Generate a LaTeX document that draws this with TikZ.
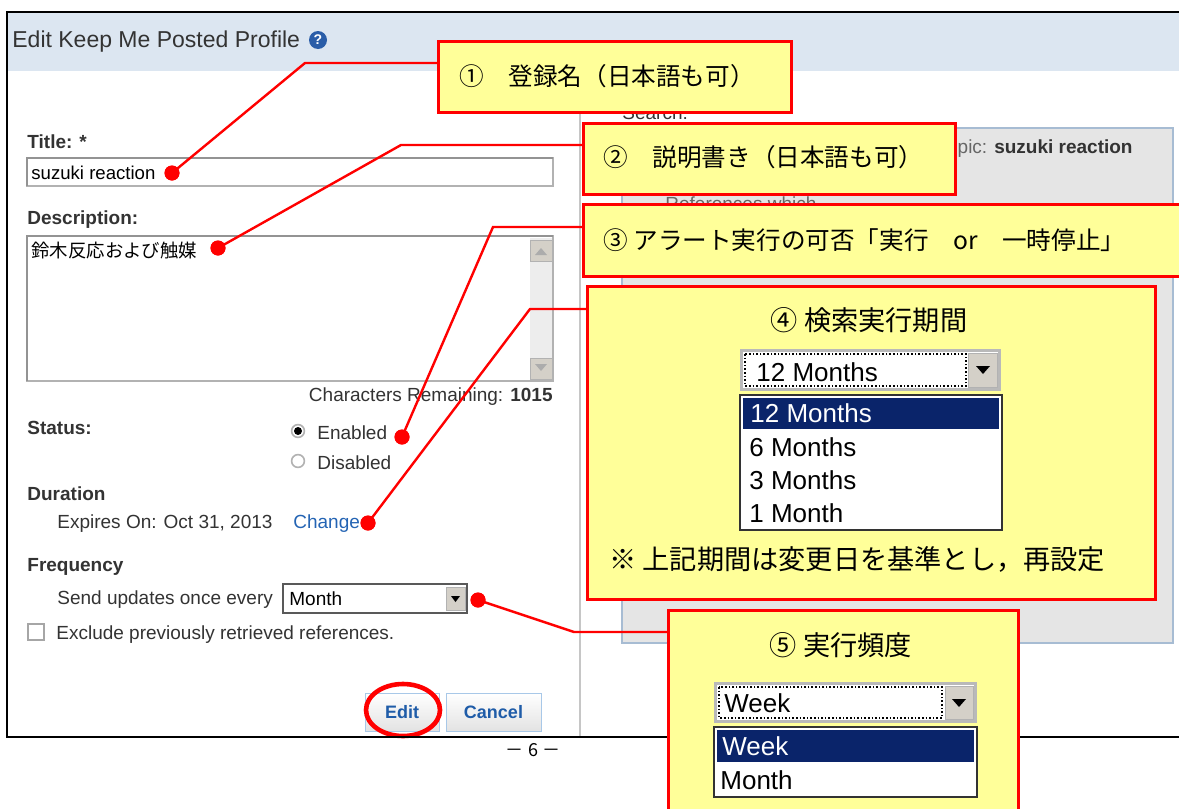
\documentclass[tikz,border=0pt]{standalone}
\usepackage{fontspec}
\setmainfont{Liberation Sans}
\newfontfamily\jp{Noto Sans CJK JP}
\usetikzlibrary{shapes.geometric}
\definecolor{hdr}{HTML}{DCE6F1}
\definecolor{callfill}{HTML}{FFFF99}
\definecolor{callred}{HTML}{FF0000}
\definecolor{panelgray}{HTML}{E5E5E5}
\definecolor{panelborder}{HTML}{A7BCD3}
\definecolor{navy}{HTML}{0A246A}
\definecolor{btnface}{HTML}{D4D0C8}
\definecolor{uitext}{HTML}{333333}
\definecolor{linkblue}{HTML}{2464B4}
\definecolor{btnblue}{HTML}{1F5CA8}
\definecolor{btnborder}{HTML}{A8C8E8}
\definecolor{helpblue}{HTML}{2A5DA8}
\begin{document}
\begin{tikzpicture}[x=0.5pt,y=-0.5pt,
  ui/.style={inner sep=0pt, text=uitext, font=\fontsize{9.5}{11}\selectfont},
  uibold/.style={inner sep=0pt, text=uitext, font=\fontsize{9.5}{11}\selectfont\bfseries},
  jptext/.style={inner sep=0pt, text=black, font=\jp\fontsize{12.3}{14}\selectfont},
  jpbig/.style={inner sep=0pt, text=black, font=\jp\fontsize{13.6}{16}\selectfont},
  callout/.style={draw=callred, fill=callfill, line width=1.5pt, inner sep=0pt, anchor=north west},
  leader/.style={draw=callred, line width=1.2pt},
  reddot/.style={circle, fill=callred, minimum size=7.5pt, inner sep=0pt},
  listtext/.style={inner sep=0pt, anchor=west, font=\fontsize{13}{15}\selectfont},
  btn/.style={draw=btnborder, top color=white, bottom color=gray!22, minimum height=19pt, inner sep=0pt, font=\fontsize{9}{11}\selectfont\bfseries, text=btnblue},
  arrowbtn/.style={fill=btnface, draw=gray!60},
]
\useasboundingbox (0,0) rectangle (1179,809);
\clip (0,0) rectangle (1179,809);
\fill[white] (0,0) rectangle (1179,809);

% header band and frame
\fill[hdr] (7,12) rectangle (1179,71);
\node[anchor=west, inner sep=0pt, text=uitext, font=\fontsize{11.5}{13}\selectfont] (hdrtitle) at (12,42) {Edit Keep Me Posted Profile};
\node[circle, fill=helpblue, minimum size=9pt, inner sep=0pt, text=white, font=\bfseries\fontsize{7}{7}\selectfont] (help) at (318,40) {?};
\draw[gray!45, line width=1pt] (580,71) -- (580,737);

% right panel
\fill[panelgray] (622,128) rectangle (1173,643);
\draw[panelborder, line width=0.8pt] (622,128) rectangle (1173,643);
\node[anchor=base west, inner sep=0pt, text=uitext, font=\fontsize{9.5}{11}\selectfont] (search) at (622,119) {Search:};
\node[anchor=base east, inner sep=0pt, font=\fontsize{9.5}{11}\selectfont] (topic) at (1133,153) {\textcolor{gray!80!black}{Topic: }\textcolor{uitext}{\bfseries suzuki reaction}};
\node[anchor=base west, inner sep=0pt, text=gray!80!black, font=\fontsize{9.5}{11}\selectfont] (refs) at (665,210) {References which};

% left panel
\node[uibold, anchor=west] (titlelbl) at (27,142) {Title: *};
\fill[white] (27,158) rectangle (553,186);
\draw[gray!60, line width=0.8pt] (27,158) rectangle (553,186);
\draw[gray!85, line width=1.2pt] (27,186) -- (27,158) -- (553,158);
\node[anchor=west, inner sep=0pt, font=\fontsize{9.3}{11}\selectfont] (titleval) at (31,173) {suzuki reaction};

\node[uibold, anchor=west] (desclbl) at (27,220) {Description:};
\fill[white] (27,236) rectangle (553,381);
\draw[gray!60, line width=0.8pt] (27,236) rectangle (553,381);
\draw[gray!85, line width=1.2pt] (27,381) -- (27,236) -- (553,236);
\node[anchor=west, inner sep=0pt, font=\jp\fontsize{9.2}{11}\selectfont] (descval) at (31,251) {鈴木反応および触媒};
\fill[gray!14] (530,238) rectangle (552,380);
\draw[arrowbtn] (530,240) rectangle (552,261);
\fill[gray!65] (535,255) -- (547,255) -- (541,248) -- cycle;
\draw[arrowbtn] (530,358) rectangle (552,379);
\fill[gray!65] (535,364) -- (547,364) -- (541,371) -- cycle;
\node[ui, anchor=east] (chars) at (553,397) {Characters Remaining: \textbf{1015}};

\node[uibold, anchor=west] (statuslbl) at (27,428) {Status:};
\draw[gray!60, fill=white, line width=0.8pt] (298,431) circle[radius=3.2pt];
\fill[black] (298,431) circle[radius=2pt];
\node[ui, anchor=west] (enabled) at (317,433) {Enabled};
\draw[gray!60, fill=white, line width=0.8pt] (298,461) circle[radius=3.2pt];
\node[ui, anchor=west] (disabled) at (317,463) {Disabled};

\node[uibold, anchor=west] (durlbl) at (27,494) {Duration};
\node[ui, anchor=west] (expires) at (57,524) {Expires On: Oct 31, 2013};
\node[ui, anchor=west, text=linkblue] (change) at (293,524) {Change};

\node[uibold, anchor=west] (freqlbl) at (27,567) {Frequency};
\node[ui, anchor=west] (sendupd) at (57,600) {Send updates once every};
\fill[white] (283,584) rectangle (467,613);
\draw[gray!70!black, line width=0.8pt] (283,584) rectangle (467,613);
\node[anchor=west, inner sep=0pt, font=\fontsize{9.5}{11}\selectfont] (monthsel) at (289,599) {Month};
\draw[arrowbtn] (446,587) rectangle (465,610);
\fill[black] (451,596) -- (460,596) -- (455.5,602) -- cycle;
\draw[gray!70, fill=white, line width=0.8pt] (28,624) rectangle (44,640);
\node[ui, anchor=west] (exclude) at (56,635) {Exclude previously retrieved references.};

\node[btn, minimum width=37pt] (editbtn) at (402,712) {Edit};
\node[btn, minimum width=47.5pt] (cancelbtn) at (493.5,712) {Cancel};
\node[ellipse, draw=callred, line width=2.3pt, minimum width=37pt, minimum height=26pt, inner sep=0pt] (editring) at (403,710) {};

\draw[black, line width=1pt] (1182,12) -- (7,12) -- (7,737) -- (1182,737);
\node[inner sep=0pt, font=\jp\fontsize{9}{11}\selectfont] (pageno) at (533,750) {－ 6 －};

% leaders
\node[reddot] (d1) at (172,173) {};
\node[reddot] (d2) at (218,248) {};
\node[reddot] (d3) at (402,437) {};
\node[reddot] (d4) at (368,523) {};
\node[reddot] (d5) at (478,600) {};
\coordinate (k1) at (305,63);
\coordinate (k2) at (401,145);
\coordinate (k3) at (493,227);
\coordinate (k4) at (530,309);
\coordinate (k5) at (574,632);

% callout boxes
\node[callout, minimum width=176.5pt, minimum height=35.5pt] (c1) at (437,40) {};
\node[callout, minimum width=186pt, minimum height=35.5pt] (c2) at (582,122) {};
\node[callout, minimum width=310pt, minimum height=36pt] (c3) at (582,203) {};
\node[callout, minimum width=284pt, minimum height=156.5pt] (c4) at (586,285) {};
\node[callout, minimum width=175pt, minimum height=110pt] (c5) at (667,609) {};

\draw[leader] (c1.west |- k1) -- (k1) -- (d1.center);
\draw[leader] (c2.west |- k2) -- (k2) -- (d2.center);
\draw[leader] (c3.west |- k3) -- (k3) -- (d3.center);
\draw[leader] (c4.west |- k4) -- (k4) -- (d4.center);
\draw[leader] (c5.west |- k5) -- (k5) -- (d5.center);
\node[reddot] at (d1) {};
\node[reddot] at (d2) {};
\node[reddot] at (d3) {};
\node[reddot] at (d4) {};
\node[reddot] at (d5) {};

\node[jptext, anchor=west] (t1) at (459,76) {①　登録名（日本語も可）};
\node[jptext, anchor=west] (t2) at (603,157) {②　説明書き（日本語も可）};
\node[jptext, anchor=west] (t3) at (603,240) {③ アラート実行の可否「実行　or　一時停止」};
\node[jpbig] (t4) at (869,320) {④ 検索実行期間};
\node[jpbig, anchor=west] (note4) at (609,559) {※ 上記期間は変更日を基準とし，再設定};
\node[jpbig] (t5) at (841,645) {⑤ 実行頻度};

% combo in box 4
\fill[gray!55] (740,349) rectangle (1001,391);
\fill[white] (743,352) rectangle (998,388);
\draw[densely dotted, line width=0.8pt] (745,354) rectangle (966,386);
\draw[arrowbtn] (968,353) rectangle (997,387);
\fill[black] (976,366) -- (990,366) -- (983,374) -- cycle;
\node[listtext] (c4sel) at (756,372) {12 Months};
\draw[black!80, line width=1pt, fill=white] (740,395) rectangle (1002,530);
\fill[navy] (743,398) rectangle (999,429);
\node[listtext, text=white] (o12) at (750,413) {12 Months};
\node[listtext] (o6) at (749,447) {6 Months};
\node[listtext] (o3) at (749,480) {3 Months};
\node[listtext] (o1) at (749,513) {1 Month};

% combo in box 5
\fill[gray!55] (714,682) rectangle (977,723);
\fill[white] (717,685) rectangle (974,720);
\draw[densely dotted, line width=0.8pt] (719,687) rectangle (942,718);
\draw[arrowbtn] (945,686) rectangle (973,719);
\fill[black] (952,699) -- (966,699) -- (959,707) -- cycle;
\node[listtext] (c5sel) at (724,703) {Week};
\draw[black!80, line width=1pt, fill=white] (714,727) rectangle (977,797);
\fill[navy] (717,730) rectangle (974,762);
\node[listtext, text=white] (ow) at (722,746) {Week};
\node[listtext] (om) at (720,780) {Month};
\end{tikzpicture}
\end{document}
